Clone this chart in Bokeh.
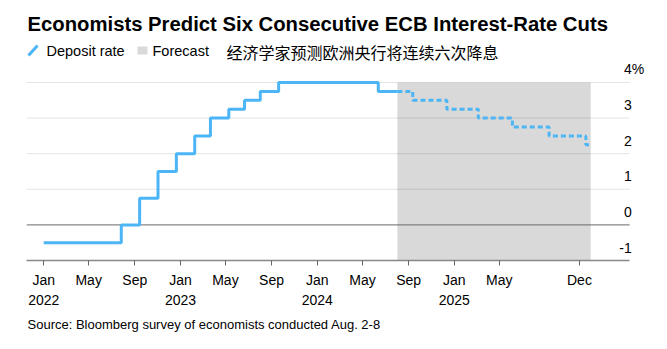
import pandas as pd
from bokeh.plotting import figure
from bokeh.models import Range1d, FixedTicker, Label, BoxAnnotation, Arrow, Title
from bokeh.core.properties import value
from bokeh.embed import file_html
from bokeh.resources import INLINE

# ---------------- data ----------------
title_text = "Economists Predict Six Consecutive ECB Interest-Rate Cuts"
legend_labels = ["Deposit rate", "Forecast"]
subtitle_cn = "经济学家预测欧洲央行将连续六次降息"
source_text = "Source: Bloomberg survey of economists conducted Aug. 2-8"

hist_dates = ["2022-01-01", "2022-07-27", "2022-09-14", "2022-11-02", "2022-12-21",
              "2023-02-08", "2023-03-22", "2023-05-10", "2023-06-21", "2023-08-02",
              "2023-09-20", "2024-06-12", "2024-08-02"]
hist_rates = [-0.5, 0.0, 0.75, 1.5, 2.0, 2.5, 3.0, 3.25, 3.5, 3.75, 4.0, 3.75, 3.75]

fc_dates = ["2024-08-02", "2024-09-12", "2024-12-12", "2025-03-06", "2025-06-05",
            "2025-09-11", "2025-12-18", "2025-12-31"]
fc_rates = [3.75, 3.5, 3.25, 3.0, 2.75, 2.5, 2.25, 2.25]

forecast_span = ["2024-08-02", "2025-12-31"]

y_ticks = [-1, 0, 1, 2, 3, 4]
y_tick_labels = ["-1", "0", "1", "2", "3", "4"]

x_tick_dates = ["2022-01-01", "2022-05-01", "2022-09-01", "2023-01-01", "2023-05-01",
                "2023-09-01", "2024-01-01", "2024-05-01", "2024-09-01", "2025-01-01",
                "2025-05-01", "2025-12-01"]
x_tick_labels = ["Jan\n2022", "May", "Sep", "Jan\n2023", "May", "Sep", "Jan\n2024",
                 "May", "Sep", "Jan\n2025", "May", "Dec"]

x_view = ["2021-11-16", "2026-07-24"]
axis_end_date = "2026-04-14"

# ---------------- helpers ----------------
def ms(d):
    return int((pd.Timestamp(d) - pd.Timestamp("1970-01-01")) // pd.Timedelta("1ms"))

BLUE = "#4cb5f5"
GRAY = "#d9d9d9"
FONT = "Liberation Sans"

x_start, x_end = ms(x_view[0]), ms(x_view[1])
axis_end = ms(axis_end_date)

p = figure(width=667, height=349, x_axis_type="datetime", output_backend="svg",
           toolbar_location=None,
           x_range=Range1d(x_start, x_end), y_range=Range1d(-1, 6.303),
           min_border_left=26, min_border_right=0, min_border_top=0,
           min_border_bottom=89, y_axis_location=None)
p.outline_line_color = None
p.grid.visible = False
p.background_fill_color = "white"
p.border_fill_color = "white"

# forecast shading
p.quad(left=[ms(forecast_span[0])], right=[ms(forecast_span[1])],
       bottom=[y_ticks[0]], top=[y_ticks[-1]], fill_color=GRAY, line_color=None)

# gridlines
grid_vals = [v for v in y_ticks if v > 0]
p.segment(x0=[x_start] * len(grid_vals), x1=[axis_end] * len(grid_vals),
          y0=grid_vals, y1=grid_vals, line_color="black", line_alpha=0.11, line_width=1)
p.segment(x0=[x_start], x1=[axis_end], y0=[0], y1=[0], line_color="#6a6a6a", line_width=1)

# lines
p.step(x=[ms(d) for d in hist_dates], y=hist_rates, mode="after",
       line_color=BLUE, line_width=3)
p.step(x=[ms(d) for d in fc_dates], y=fc_rates, mode="after",
       line_color=BLUE, line_width=3, line_dash="5 3")

# y labels
p.text(x=[axis_end] * len(y_ticks), y=y_ticks, text=y_tick_labels,
       text_align="right", text_baseline="alphabetic", x_offset=2, y_offset=-13,
       text_font=value(FONT), text_font_size="14px", text_color="black")
p.text(x=[axis_end], y=[y_ticks[-1]], text=["%"], text_align="left",
       text_baseline="alphabetic", x_offset=2, y_offset=-13,
       text_font=value(FONT), text_font_size="14px", text_color="black")

# x axis
ax = p.xaxis[0]
tick_ms = [ms(d) for d in x_tick_dates]
ax.ticker = FixedTicker(ticks=tick_ms)
ax.major_label_overrides = {t: lab for t, lab in zip(tick_ms, x_tick_labels)}
ax.bounds = (x_start, axis_end)
ax.axis_line_color = "#888888"
ax.axis_line_width = 1.5
ax.major_tick_line_color = "#666666"
ax.major_tick_in = 0
ax.major_tick_out = 5
ax.minor_tick_line_color = None
ax.major_label_text_font = FONT
ax.major_label_text_font_size = "14px"
ax.major_label_text_color = "black"
ax.major_label_standoff = 6
ax.major_label_text_line_height = 1.3

# source (below the axis)
p.add_layout(Title(text=source_text, align="left", offset=1, standoff=7,
                   text_font=FONT, text_font_size="13px", text_font_style="normal",
                   text_color="black"), "below")

# title, legend
p.add_layout(Label(x=1, y=237, x_units="screen", y_units="screen", text=title_text,
                   text_font=FONT, text_font_style="bold", text_font_size="20.3px",
                   text_color="black", text_baseline="alphabetic"))
p.add_layout(Arrow(x_start=2, y_start=205, x_end=11, y_end=215,
                   start_units="screen", end_units="screen", end=None,
                   line_color=BLUE, line_width=3))
p.add_layout(Label(x=20, y=210, x_units="screen", y_units="screen", text=legend_labels[0],
                   text_font=FONT, text_font_size="14.5px", text_color="black",
                   text_baseline="alphabetic"))
p.add_layout(BoxAnnotation(left=111, right=121, bottom=206, top=214,
                           left_units="screen", right_units="screen",
                           bottom_units="screen", top_units="screen",
                           fill_color=GRAY, fill_alpha=1, line_color=None))
p.add_layout(Label(x=126, y=210, x_units="screen", y_units="screen", text=legend_labels[1],
                   text_font=FONT, text_font_size="14.5px", text_color="black",
                   text_baseline="alphabetic"))
p.add_layout(Label(x=200, y=209, x_units="screen", y_units="screen", text=subtitle_cn,
                   text_font="Noto Sans CJK SC", text_font_size="16px", text_color="black",
                   text_baseline="alphabetic"))

open("out.html", "w").write(file_html(p, INLINE))
